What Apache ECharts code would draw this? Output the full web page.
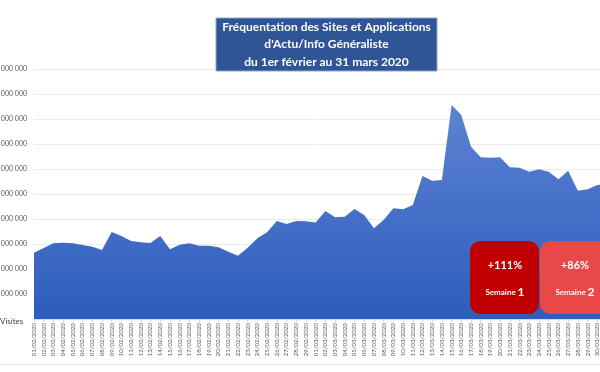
<!DOCTYPE html>
<html>
<head>
<meta charset="utf-8">
<script src="https://cdn.jsdelivr.net/npm/echarts@6/dist/echarts.min.js"></script>
<style>html,body{margin:0;padding:0;background:#fff}#c{width:600px;height:372px}</style>
</head>
<body>
<div id="c"></div>
<script>
const categories = [
"01/02/2020","02/02/2020","03/02/2020","04/02/2020","05/02/2020","06/02/2020","07/02/2020","08/02/2020","09/02/2020","10/02/2020",
"11/02/2020","12/02/2020","13/02/2020","14/02/2020","15/02/2020","16/02/2020","17/02/2020","18/02/2020","19/02/2020","20/02/2020",
"21/02/2020","22/02/2020","23/02/2020","24/02/2020","25/02/2020","26/02/2020","27/02/2020","28/02/2020","29/02/2020","01/03/2020",
"02/03/2020","03/03/2020","04/03/2020","05/03/2020","06/03/2020","07/03/2020","08/03/2020","09/03/2020","10/03/2020","11/03/2020",
"12/03/2020","13/03/2020","14/03/2020","15/03/2020","16/03/2020","17/03/2020","18/03/2020","19/03/2020","20/03/2020","21/03/2020",
"22/03/2020","23/03/2020","24/03/2020","25/03/2020","26/03/2020","27/03/2020","28/03/2020","29/03/2020","30/03/2020","31/03/2020"
];
const visites = [
26.5,28.4,30.3,30.5,30.3,29.6,28.9,27.6,34.8,33.2,
31.2,30.7,30.4,33.2,27.9,29.7,30.3,29.3,29.3,28.7,
26.9,25.3,28.5,32.3,34.7,39.2,38.0,39.2,39.1,38.6,
43.2,40.7,40.9,44.0,41.6,36.3,39.6,44.3,43.9,45.6,
57.2,55.3,55.6,85.6,81.6,68.9,64.7,64.5,64.7,60.7,
60.5,58.9,59.9,58.9,55.9,59.3,51.3,51.9,53.6,54.0
].map(v => v * 1000000);
const titleLines = ["Fréquentation des Sites et Applications", "d'Actu/Info Généraliste", "du 1er février au 31 mars 2020"];
const weekBoxes = [
  { pct: "+111%", label: "Semaine ", num: "1" },
  { pct: "+86%", label: "Semaine ", num: "2" }
];

const fmt = v => String(Math.round(v)).replace(/\B(?=(\d{3})+(?!\d))/g, ' ');

const chart = echarts.init(document.getElementById('c'), null, { renderer: 'canvas' });
const boxColors = ['#c00000', '#e94848'];
const boxX = [470, 540];
const graphics = [
  { type: 'rect', shape: { x: 216, y: 18, width: 221, height: 53 }, style: { fill: '#2f5597', stroke: '#8ea6cf', lineWidth: 1 }, z: 10 },
  { type: 'line', shape: { x1: 0, y1: 364.5, x2: 600, y2: 364.5 }, style: { stroke: '#e4e4e4', lineWidth: 1 }, z: 10 },
  { type: 'text', left: 0, top: 317, style: { text: 'Visites', font: '8px Lato, "Liberation Sans", sans-serif', fill: '#404040' }, z: 10 }
];
titleLines.forEach((t, i) => {
  graphics.push({ type: 'text', x: 326.5, y: 27 + i * 17.5, style: { text: t, font: 'bold 12px Lato, "Open Sans", sans-serif', fill: '#ffffff', align: 'center', verticalAlign: 'middle' }, z: 11 });
});
weekBoxes.forEach((b, i) => {
  const x = boxX[i];
  graphics.push({ type: 'rect', shape: { x: x, y: 241, width: 69, height: 73, r: 10 }, style: { fill: boxColors[i] }, z: 12 + i });
  graphics.push({ type: 'text', x: x + 35, y: 265, style: { text: b.pct, font: 'bold 11px Lato, "Open Sans", sans-serif', fill: '#ffffff', align: 'center', verticalAlign: 'middle' }, z: 14 + i });
  graphics.push({ type: 'text', x: x + 35, y: 292, style: { text: '{a|' + b.label + '}{b|' + b.num + '}', align: 'center', verticalAlign: 'middle', rich: { a: { font: 'bold 8px Lato, "Open Sans", sans-serif', fill: '#ffffff', color: '#ffffff' }, b: { font: 'bold 12px Lato, "Open Sans", sans-serif', fill: '#ffffff', color: '#ffffff' } } }, z: 14 + i });
});

chart.setOption({
  animation: false,
  grid: { left: 34, right: -7, top: 69, bottom: 53, containLabel: false, outerBoundsMode: 'none' },
  xAxis: {
    type: 'category', data: categories, boundaryGap: false,
    axisLine: { show: true, lineStyle: { color: '#d9d9d9' } },
    axisTick: { show: true, interval: 0, length: 3, lineStyle: { color: '#d9d9d9' } },
    axisLabel: { interval: 0, rotate: 90, fontSize: 6, color: '#595959', margin: 4, hideOverlap: false, fontFamily: 'Lato, "Liberation Sans", sans-serif' },
    splitLine: { show: false }
  },
  yAxis: {
    type: 'value', min: 0, max: 100000000, interval: 10000000,
    axisLine: { show: false }, axisTick: { show: false },
    axisLabel: { fontSize: 7, color: '#595959', margin: 7, fontFamily: 'Lato, "Liberation Sans", sans-serif', formatter: v => v === 0 ? '' : fmt(v) },
    splitLine: { lineStyle: { color: '#ebebeb', width: 1 } }
  },
  series: [{
    type: 'line', data: visites, showSymbol: false, smooth: false,
    lineStyle: { width: 0 },
    areaStyle: { opacity: 1, color: new echarts.graphic.LinearGradient(0, 0, 0, 1, [{ offset: 0, color: '#5d83d2' }, { offset: 1, color: '#2d5dbd' }]) },
    z: 2
  }],
  graphic: graphics
});
</script>
</body>
</html>
